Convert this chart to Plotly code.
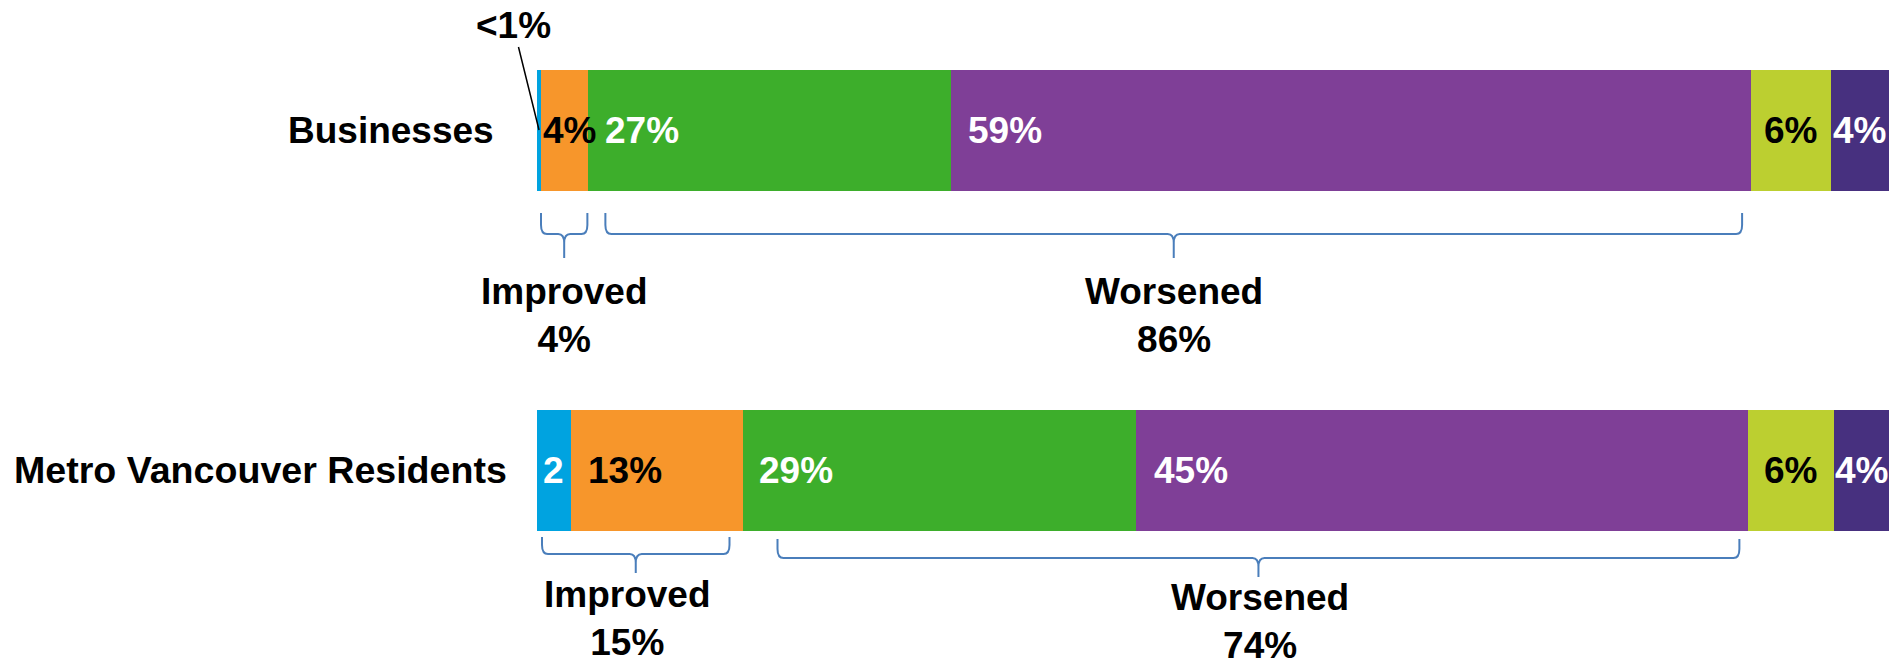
import plotly.graph_objects as go

# ---------------- data ----------------
categories = ["Businesses", "Metro Vancouver Residents"]
segments = ["Improved a lot", "Improved somewhat", "Worsened somewhat",
            "Worsened a lot", "Stayed the same", "Don't know"]
businesses = [0.3, 3.5, 26.8, 59.2, 5.9, 4.3]
residents = [2.5, 12.7, 29.1, 45.3, 6.3, 4.1]
businesses_labels = ["", "4%", "27%", "59%", "6%", "4%"]
residents_labels = ["2", "13%", "29%", "45%", "6%", "4%"]
small_label = "<1%"
improved_totals = [4, 15]
worsened_totals = [86, 74]
improved_segments = [0, 1]
worsened_segments = [2, 3]

# ---------------- style ----------------
colors = ["#00A3E0", "#F7962B", "#3DAE2B", "#7F3F97", "#BCCF30", "#47307F"]
label_colors = ["white", "black", "white", "white", "black", "white"]
FONT = "Liberation Sans, Arial, sans-serif"
FS = 37
BRACE_COLOR = "#4A7EBB"

def font(color="black", size=FS):
    return dict(family=FONT, size=size, color=color, weight="bold")

W, H = 1893, 667
PL, PR = 537, 4
PW = W - PL - PR
CAT_PX = [130, 470]          # pixel centres of the two bars
PPU = CAT_PX[1] - CAT_PX[0]  # pixels per category unit
BAR_W = 121 / PPU

def dx(px):
    return px * 100.0 / PW

def yp(py):
    return 1 - py / H

series = [businesses, residents]
labels = [businesses_labels, residents_labels]
# label placement: ("start", inset px) or ("center", 0)
placement = [
    [None, ("start", 0), ("start", 15), ("start", 15), ("center", 0), ("center", 0)],
    [("center", 0), ("start", 15), ("start", 14), ("start", 16), ("center", 0), ("center", 0)],
]

fig = go.Figure()
for i, name in enumerate(segments):
    fig.add_trace(go.Bar(
        name=name, orientation="h", y=categories,
        x=[businesses[i], residents[i]],
        marker=dict(color=colors[i], line=dict(width=0)),
        width=BAR_W, showlegend=False, hoverinfo="skip",
    ))

annotations = []
for c, cat in enumerate(categories):
    vals = series[c]
    start = 0.0
    for i, v in enumerate(vals):
        p = placement[c][i]
        if labels[c][i] and p is not None:
            mode, inset = p
            if mode == "start":
                annotations.append(dict(
                    x=start, y=cat, xref="x", yref="y", xanchor="left",
                    xshift=inset, showarrow=False, text=labels[c][i],
                    font=font(label_colors[i])))
            else:
                annotations.append(dict(
                    x=start + v / 2, y=cat, xref="x", yref="y", xanchor="center",
                    showarrow=False, text=labels[c][i],
                    font=font(label_colors[i])))
        start += v

# "<1%" call-out with leader line
annotations.append(dict(
    x=businesses[0] / 2, y=categories[0], xref="x", yref="y",
    text=small_label, showarrow=True, arrowhead=0, arrowwidth=1.5,
    arrowcolor="black", ax=-26, ay=-105, standoff=0,
    font=font("black")))

# category names
cat_right_px = [496, 509]
cat_sizes = [37, 37.6]
for c, cat in enumerate(categories):
    annotations.append(dict(
        x=0, y=cat, xref="x", yref="y", xanchor="right",
        xshift=cat_right_px[c] - PL, showarrow=False, text=cat,
        font=font("black", cat_sizes[c])))

# braces: (top px, line px, tip px, left inset, right inset)
brace_geo = {
    (0, "imp"): (213, 234, 258, 4, 1),
    (0, "wor"): (213, 234, 258, 17, 9),
    (1, "imp"): (537, 554, 573, 5, 13),
    (1, "wor"): (539, 558, 577, 35, 9),
}
text_mid_px = {(0, "imp"): 316, (0, "wor"): 316, (1, "imp"): 618, (1, "wor"): 621}
text_xshift = {(0, "imp"): 0, (0, "wor"): 0, (1, "imp"): -8, (1, "wor"): 2}

shapes = []
for c in range(len(categories)):
    vals = series[c]
    for key, segs, total, title in (("imp", improved_segments, improved_totals[c], "Improved"),
                                    ("wor", worsened_segments, worsened_totals[c], "Worsened")):
        s0 = sum(vals[:segs[0]])
        s1 = sum(vals[:segs[-1] + 1])
        top, line, tip, il, ir = brace_geo[(c, key)]
        xl = s0 + dx(il)
        xr = s1 - dx(ir)
        xm = (xl + xr) / 2
        r = dx(6)
        yt, yl, yb = yp(top), yp(line), yp(tip)
        yc1, yc2 = yp(line - 9), yp(line + 9)
        path = (f"M {xl},{yt} L {xl},{yc1} Q {xl},{yl} {xl + r},{yl} "
                f"L {xm - r},{yl} Q {xm},{yl} {xm},{yc2} L {xm},{yb} "
                f"M {xm},{yc2} Q {xm},{yl} {xm + r},{yl} "
                f"L {xr - r},{yl} Q {xr},{yl} {xr},{yc1} L {xr},{yt}")
        shapes.append(dict(type="path", path=path, xref="x", yref="paper",
                           line=dict(color=BRACE_COLOR, width=2)))
        annotations.append(dict(
            x=xm, y=yp(text_mid_px[(c, key)]), xref="x", yref="paper",
            xanchor="center", yanchor="middle", xshift=text_xshift[(c, key)],
            showarrow=False, align="center",
            text=f"{title}<br>{total}%",
            font=font("black")))

fig.update_layout(
    barmode="stack",
    width=W, height=H,
    margin=dict(l=PL, r=PR, t=0, b=0, pad=0),
    paper_bgcolor="white", plot_bgcolor="white",
    font=dict(family=FONT, size=FS, color="black"),
    xaxis=dict(range=[0, 100], visible=False, fixedrange=True),
    yaxis=dict(type="category", categoryorder="array", categoryarray=categories,
               range=[1 + (H - CAT_PX[1]) / PPU, -CAT_PX[0] / PPU],
               visible=False, fixedrange=True),
    annotations=annotations,
    shapes=shapes,
)

fig.write_html("out.html", config={"displayModeBar": False},
               post_script="document.body.style.margin='0';document.body.style.overflow='hidden';")
